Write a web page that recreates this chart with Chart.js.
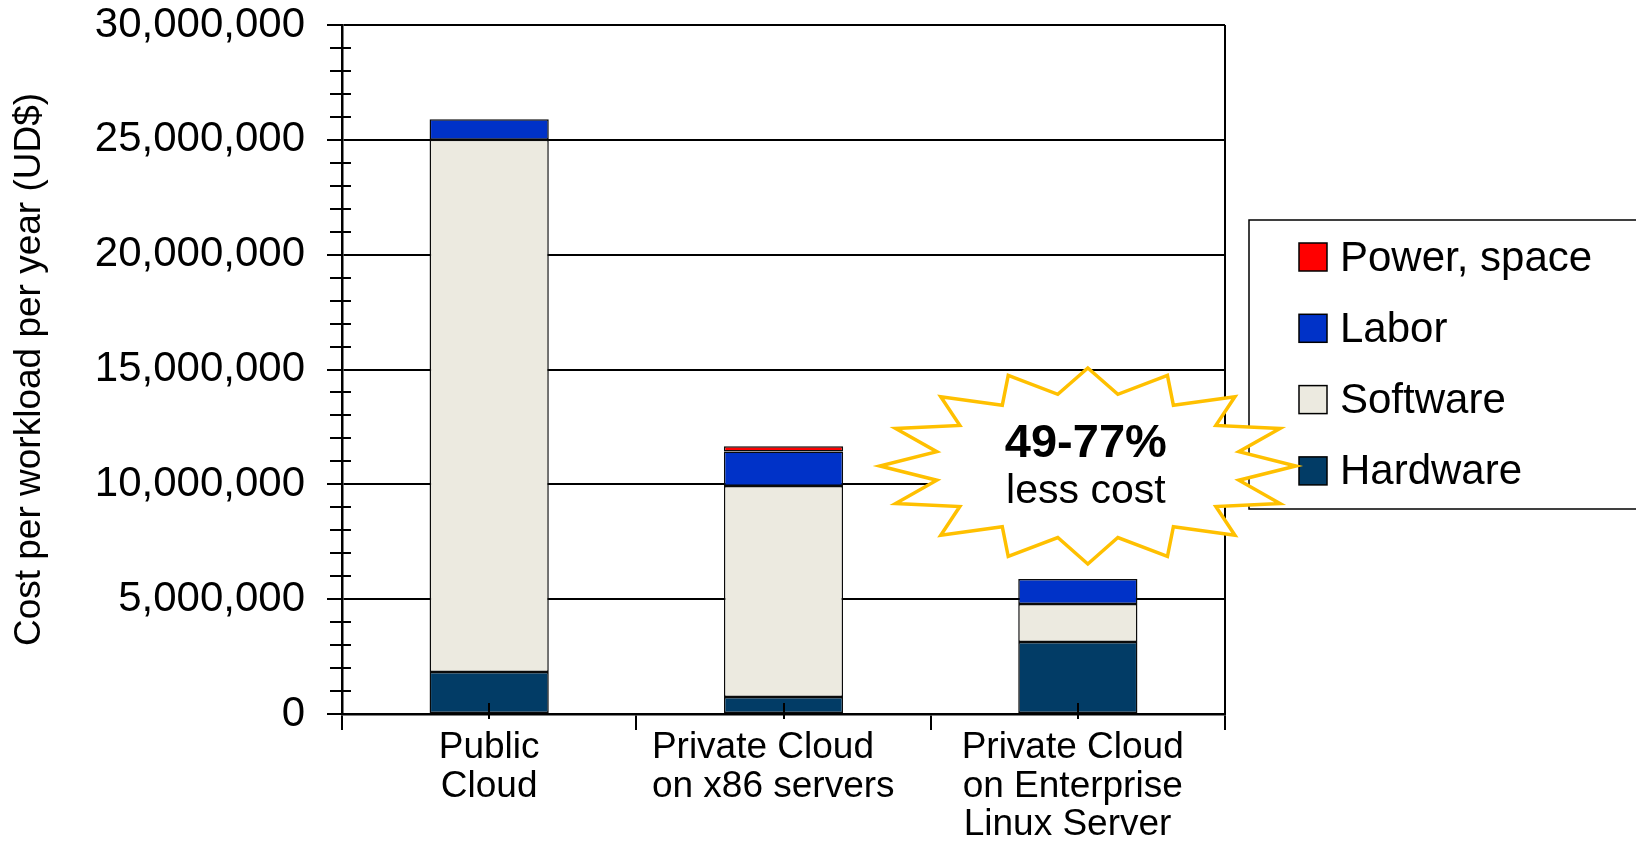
<!DOCTYPE html>
<html>
<head>
<meta charset="utf-8">
<script src="https://cdn.jsdelivr.net/npm/chart.js@4.4.1/dist/chart.umd.min.js"></script>
<style>
  html, body { margin: 0; padding: 0; background: #fff; }
  #chart { display: block; }
</style>
</head>
<body>
<canvas id="chart" width="1636" height="842"></canvas>
<script>
// ─── Data (USD per workload per year) ───────────────────────────────────────
// trailing spaces keep each label block left-aligned like the original
const categories = [
  ['Public', 'Cloud'],
  ['Private Cloud    ', 'on x86 servers  '],
  ['Private Cloud ', 'on Enterprise ', 'Linux Server  '],
];
const hardware   = [1830000, 740000, 3130000];
const software   = [23170000, 9190000, 1660000];
const labor      = [900000, 1500000, 1090000];
const powerSpace = [0, 230000, 0];

const yMax       = 30000000;
const minorStep  = 1000000;
const majorStep  = 5000000;
const yTitle     = 'Cost per workload per year (UD$)';
const callout    = ['49-77%', 'less cost'];

const FONT = '"Liberation Sans", Arial, sans-serif';

// ─── Extra drawing: frame, minor ticks, legend box, starburst ───────────────
const decorations = {
  id: 'decorations',
  afterDatasetsDraw(chart) {
    const { ctx, chartArea: a, scales: { x, y } } = chart;
    ctx.save();
    ctx.strokeStyle = '#000';
    ctx.lineWidth = 2;
    ctx.beginPath();
    // right border of plot
    ctx.moveTo(a.right, a.top);
    ctx.lineTo(a.right, a.bottom);
    // minor ticks across the value axis
    y.ticks.forEach(t => {
      if (t.value % majorStep === 0) return;
      const py = Math.round(y.getPixelForValue(t.value));
      ctx.moveTo(a.left - 12, py);
      ctx.lineTo(a.left + 9, py);
    });
    // short ticks at category centres
    categories.forEach((_, i) => {
      const px = Math.round(x.getPixelForValue(i));
      ctx.moveTo(px, a.bottom - 11);
      ctx.lineTo(px, a.bottom + 5);
    });
    ctx.stroke();
    ctx.restore();
  },
  afterDraw(chart) {
    const { ctx, chartArea: a, scales: { x, y } } = chart;
    ctx.save();

    // legend (reverse of stacking order)
    const lx = a.right + 24, ly = a.top + 195;
    ctx.fillStyle = '#fff';
    ctx.strokeStyle = '#000';
    ctx.lineWidth = 1.5;
    ctx.fillRect(lx, ly, 500, 289);
    ctx.strokeRect(lx, ly, 500, 289);
    ctx.font = `42px ${FONT}`;
    ctx.textBaseline = 'middle';
    ctx.textAlign = 'left';
    chart.data.datasets.slice().reverse().forEach((ds, i) => {
      const sy = ly + 23 + i * 71.3;
      ctx.fillStyle = ds.backgroundColor;
      ctx.fillRect(lx + 50, sy, 28, 28);
      ctx.lineWidth = 1.5;
      ctx.strokeRect(lx + 50, sy, 28, 28);
      ctx.fillStyle = '#000';
      ctx.fillText(ds.label, lx + 91, sy + 16);
    });

    // starburst callout
    const cx = x.getPixelForValue(2) + 10;
    const cy = y.getPixelForValue(10800000);
    const n = 16;
    ctx.beginPath();
    for (let k = 0; k < n * 2; k++) {
      const ang = -Math.PI / 2 + k * Math.PI / n;
      const outer = k % 2 === 0;
      const rx = outer ? 208 : 154, ry = outer ? 98 : 73;
      const px = cx + rx * Math.cos(ang), py = cy + ry * Math.sin(ang);
      k === 0 ? ctx.moveTo(px, py) : ctx.lineTo(px, py);
    }
    ctx.closePath();
    ctx.fillStyle = '#fff';
    ctx.fill();
    ctx.strokeStyle = '#FFC000';
    ctx.lineWidth = 3.5;
    ctx.lineJoin = 'miter';
    ctx.stroke();

    ctx.fillStyle = '#000';
    ctx.textAlign = 'center';
    ctx.textBaseline = 'alphabetic';
    ctx.font = `bold 47px ${FONT}`;
    ctx.fillText(callout[0], cx - 2, cy - 9);
    ctx.font = `41px ${FONT}`;
    ctx.fillText(callout[1], cx - 2, cy + 37);
    ctx.restore();
  },
};

const barStyle = {
  borderColor: '#0a0a0a',
  borderWidth: 1.5,
  borderSkipped: false,
  barPercentage: 0.405,
  categoryPercentage: 1,
};

new Chart(document.getElementById('chart'), {
  type: 'bar',
  data: {
    labels: categories,
    datasets: [
      { label: 'Hardware',     data: hardware,   backgroundColor: '#023C66', ...barStyle },
      { label: 'Software',     data: software,   backgroundColor: '#ECEAE0', ...barStyle },
      { label: 'Labor',        data: labor,      backgroundColor: '#0032C8', ...barStyle },
      { label: 'Power, space', data: powerSpace, backgroundColor: '#FF0000', ...barStyle },
    ],
  },
  options: {
    responsive: false,
    animation: false,
    layout: { padding: { top: 25, right: 411, bottom: 0, left: 0 } },
    plugins: {
      legend: { display: false },
      tooltip: { enabled: false },
    },
    scales: {
      x: {
        stacked: true,
        afterFit: s => { s.height = 128; },
        grid: {
          offset: true,
          drawOnChartArea: false,
          color: '#000',
          lineWidth: 2,
          tickLength: 16,
        },
        border: { color: '#000', width: 2.5 },
        ticks: {
          color: '#000',
          padding: -1,
          maxRotation: 0,
          font: { family: FONT, size: 37, lineHeight: 1.04 },
        },
      },
      y: {
        stacked: true,
        min: 0,
        max: yMax,
        afterFit: s => { s.width = 342; s.paddingTop = 0; s.paddingBottom = 0; },
        grid: {
          color: c => (c.tick && c.tick.value % majorStep === 0) ? '#000' : 'rgba(0,0,0,0)',
          tickColor: c => (c.tick && c.tick.value % majorStep === 0) ? '#000' : 'rgba(0,0,0,0)',
          lineWidth: 2,
          tickLength: 15,
        },
        border: { color: '#000', width: 2.5 },
        ticks: {
          stepSize: minorStep,
          autoSkip: false,
          color: '#000',
          padding: 22,
          font: { family: FONT, size: 42 },
          callback: v => v % majorStep === 0 ? v.toLocaleString('en-US') : '',
        },
        title: {
          display: true,
          text: yTitle,
          color: '#000',
          padding: { top: 8, bottom: 0 },
          font: { family: FONT, size: 37 },
        },
      },
    },
  },
  plugins: [decorations],
});
</script>
</body>
</html>
